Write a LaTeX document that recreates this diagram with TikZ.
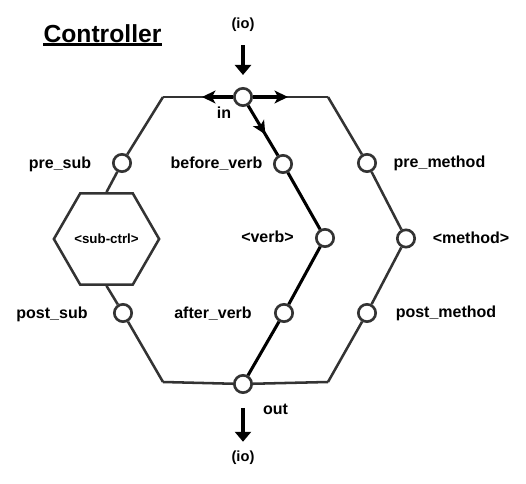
\documentclass[tikz,border=0pt]{standalone}
\usepackage{fontspec}
\setmainfont{Liberation Sans}
\usetikzlibrary{arrows.meta,shapes.geometric,decorations.markings}
\definecolor{edgegray}{HTML}{333333}
\tikzset{
  port/.style={circle, draw=edgegray, line width=2pt, fill=white, minimum size=13pt, inner sep=0pt},
  subhex/.style={regular polygon, regular polygon sides=6, draw=edgegray, line width=1.9pt, minimum size=69pt, inner sep=0pt, font=\bfseries\fontsize{10}{12}\selectfont},
  hexline/.style={draw=edgegray, line width=1.9pt},
  verbline/.style={draw=black, line width=2.3pt},
  lbl/.style={font=\bfseries\fontsize{12}{14}\selectfont, anchor=base, inner sep=0pt},
  iolbl/.style={font=\bfseries\fontsize{11}{13}\selectfont, anchor=base, inner sep=0pt},
  titlelbl/.style={font=\bfseries\fontsize{18.5}{22}\selectfont, anchor=base, inner sep=0pt},
  ioarrow/.style={line width=2.3pt, -{Triangle[length=7.5pt,width=12pt]}},
  flowtip/.style={-{Stealth[length=10pt,width=9.5pt,inset=2.5pt]}},
  midarrow/.style={postaction={decorate}, decoration={markings,
    mark=at position 0.58 with {\arrow{Stealth[length=10pt,width=9.5pt,inset=2.5pt]}}}},
}
\begin{document}
\begin{tikzpicture}[x=0.75pt,y=-0.75pt]
  \useasboundingbox (0,0) rectangle (526,484);
  % corners of the outer hexagon
  \coordinate (tl) at (163,97);
  \coordinate (tr) at (328,97);
  \coordinate (bl) at (163,382);
  \coordinate (br) at (328,382);
  \coordinate (inL) at (202,97);
  \coordinate (inR) at (288,97);
  % ports
  \node[port] (in) at (243,97) {};
  \node[port] (out) at (243,384) {};
  \node[port] (presub) at (122,163) {};
  \node[subhex] (subctrl) at (106.5,239) {<sub-ctrl>};
  \node[port] (postsub) at (123,313) {};
  \node[port] (beforeverb) at (283,164) {};
  \node[port] (verb) at (325,238) {};
  \node[port] (afterverb) at (284,313) {};
  \node[port] (premethod) at (367,163) {};
  \node[port] (method) at (406,238.5) {};
  \node[port] (postmethod) at (367,313) {};
  % labels
  \node[titlelbl] (title) at (102.5,42.5) {Controller};
  \node[iolbl] (iotop) at (243,28.7) {(io)};
  \node[iolbl] (iobot) at (243,462) {(io)};
  \node[lbl] (inl) at (224,119) {in};
  \node[lbl] (outl) at (275.5,415) {out};
  \node[lbl] (presubl) at (60,169) {pre\_sub};
  \node[lbl] (postsubl) at (52,318.5) {post\_sub};
  \node[lbl] (beforeverbl) at (216.5,169) {before\_verb};
  \node[lbl] (verbl) at (267.5,243) {<verb>};
  \node[lbl] (afterverbl) at (213,318.5) {after\_verb};
  \node[lbl] (premethodl) at (439.5,168) {pre\_method};
  \node[lbl] (methodl) at (471,243.5) {<method>};
  \node[lbl] (postmethodl) at (446,317.5) {post\_method};
  % outer hexagon
  \draw[hexline] (tl) -- (in) -- (tr);
  \draw[hexline] (bl) -- (out) -- (br);
  \draw[hexline] (tl) -- (presub) -- (subctrl.north);
  \draw[hexline] (subctrl.south) -- (postsub) -- (bl);
  \draw[hexline] (tr) -- (premethod) -- (method) -- (postmethod) -- (br);
  % verb path
  \draw[verbline, flowtip] (in) -- (inL);
  \draw[verbline, flowtip] (in) -- (inR);
  \draw[verbline, midarrow] (in) -- (beforeverb);
  \draw[verbline] (beforeverb) -- (verb) -- (afterverb) -- (out);
  % io
  \draw[ioarrow, shorten <=9.75pt, shorten >=9pt] (iotop) -- (in);
  \draw[ioarrow, shorten <=10.5pt, shorten >=7pt] (out) -- (iobot);
  \draw[line width=1.9pt] ([yshift=-1.5pt]title.base west) -- ([yshift=-1.5pt]title.base east);
\end{tikzpicture}
\end{document}
